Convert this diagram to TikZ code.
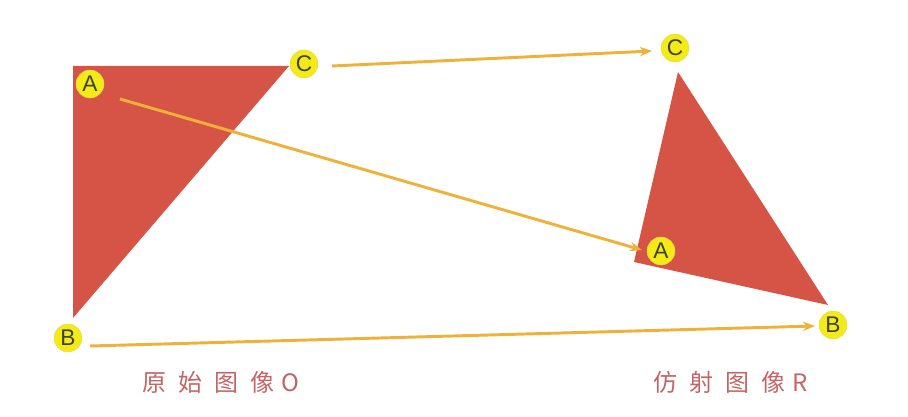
\documentclass[tikz,border=0pt]{standalone}
\usepackage{fontspec}
\setmainfont{Liberation Sans}
\newfontfamily\cjk{Noto Sans CJK SC}
\usetikzlibrary{arrows.meta}
\definecolor{tri}{HTML}{D65445}
\definecolor{dot}{HTML}{F4EA14}
\definecolor{arr}{HTML}{EFB13A}
\definecolor{cap}{HTML}{C46565}
\tikzset{
  pt/.style={circle, fill=dot, draw=dot!80!black!60, line width=0.3pt, inner sep=0pt, minimum size=21pt, font=\fontsize{17}{17}\selectfont, text=black!75},
  arrline/.style={draw=arr, line width=2.2pt, -{Stealth[length=9pt,width=7pt]}},
  captxt/.style={text=cap, font=\cjk\fontsize{18}{18}\selectfont}
}
\begin{document}
\begin{tikzpicture}[x=0.75pt,y=-0.75pt]
\useasboundingbox (0,0) rectangle (908,417);
% left triangle
\fill[tri] (73,66) -- (289,66) -- (73,318) -- cycle;
% right triangle
\fill[tri] (678,72) -- (634,262) -- (828,305) -- cycle;
% points
\node[pt] (A1) at (90,84) {A};
\node[pt] (C1) at (304,64) {C};
\node[pt] (B1) at (68,338) {B};
\node[pt] (A2) at (661,251) {A};
\node[pt] (C2) at (675,48) {C};
\node[pt] (B2) at (833,325) {B};
% arrow anchors
\coordinate (a1) at (120,99);
\coordinate (a2) at (642,250);
\coordinate (c1) at (332,66);
\coordinate (c2) at (652,51);
\coordinate (b1) at (90,346);
\coordinate (b2) at (815,326);
\draw[arrline] (a1) -- (a2);
\draw[arrline] (c1) -- (c2);
\draw[arrline] (b1) -- (b2);
% captions
\node[captxt] (L) at (221,382) {原\hspace{0.5em}始\hspace{0.5em}图\hspace{0.5em}像\hspace{0.3em}O};
\node[captxt] (R) at (731,382) {仿\hspace{0.5em}射\hspace{0.5em}图\hspace{0.5em}像\hspace{0.3em}R};
\end{tikzpicture}
\end{document}
